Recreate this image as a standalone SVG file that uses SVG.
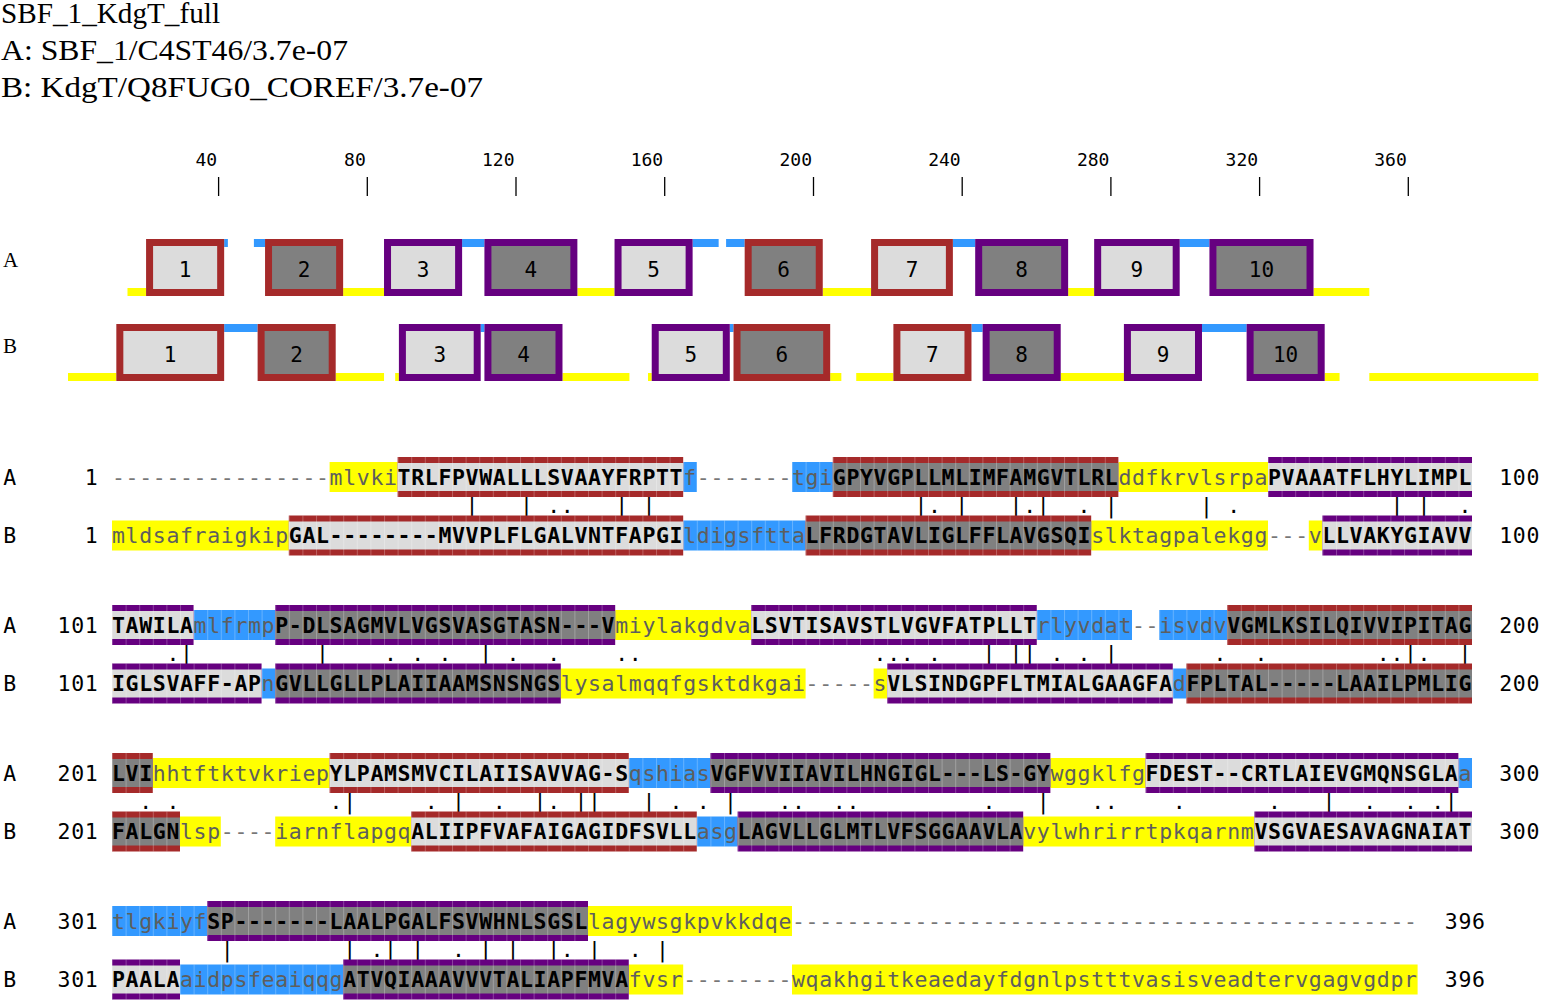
<svg xmlns="http://www.w3.org/2000/svg" width="1542" height="1003" viewBox="0 0 1542 1003">
<style>
.seq{font-family:"DejaVu Sans Mono",monospace;font-size:21.5px;letter-spacing:0.656px}
.up{font-weight:bold;fill:#000}
.lo{fill:#5e5e5e}
.gp{fill:#777}
.lb{fill:#000}
.mt{font-family:"DejaVu Sans Mono",monospace;font-size:21.5px;fill:#000}
.y{fill:#ffff00}
.b{fill:#3399ff}
.br{fill:#a52a2a}
.pu{fill:#660080}
.lt{fill:#dcdcdc}
.dk{fill:#808080}
.grid{fill:url(#cells)}
.bx{stroke-width:7}
.sbr{stroke:#a52a2a}
.spu{stroke:#660080}
.title{font-family:"Liberation Serif",serif;font-size:30px;fill:#000}
.ruler{font-family:"DejaVu Sans Mono",monospace;font-size:18px;text-anchor:end;fill:#000}
.tick{stroke:#000;stroke-width:1.3}
.bn{font-family:"DejaVu Sans Mono",monospace;font-size:21px;text-anchor:middle;fill:#000}
.tl{font-family:"Liberation Serif",serif;font-size:21px;fill:#000}
</style>
<defs>
<pattern id="cells" patternUnits="userSpaceOnUse" x="112" y="0" width="13.6" height="40">
<rect x="0" y="0" width="1" height="40" fill="#fff" fill-opacity="0.25"/>
</pattern>
</defs>
<rect width="1542" height="1003" fill="#fff"/>

<g id="title">
<text class="title" x="1" y="23" textLength="219" lengthAdjust="spacingAndGlyphs">SBF_1_KdgT_full</text>
<text class="title" x="1" y="60" textLength="347" lengthAdjust="spacingAndGlyphs">A: SBF_1/C4ST46/3.7e-07</text>
<text class="title" x="1" y="97" textLength="482" lengthAdjust="spacingAndGlyphs">B: KdgT/Q8FUG0_COREF/3.7e-07</text>
</g>

<g id="ruler">
<text class="ruler" x="217.1" y="166">40</text>
<text class="ruler" x="365.8" y="166">80</text>
<text class="ruler" x="514.5" y="166">120</text>
<text class="ruler" x="663.2" y="166">160</text>
<text class="ruler" x="812" y="166">200</text>
<text class="ruler" x="960.7" y="166">240</text>
<text class="ruler" x="1109.4" y="166">280</text>
<text class="ruler" x="1258.1" y="166">320</text>
<text class="ruler" x="1406.8" y="166">360</text>
<line class="tick" x1="218.6" y1="177" x2="218.6" y2="196"/>
<line class="tick" x1="367.3" y1="177" x2="367.3" y2="196"/>
<line class="tick" x1="516" y1="177" x2="516" y2="196"/>
<line class="tick" x1="664.7" y1="177" x2="664.7" y2="196"/>
<line class="tick" x1="813.5" y1="177" x2="813.5" y2="196"/>
<line class="tick" x1="962.2" y1="177" x2="962.2" y2="196"/>
<line class="tick" x1="1110.9" y1="177" x2="1110.9" y2="196"/>
<line class="tick" x1="1259.6" y1="177" x2="1259.6" y2="196"/>
<line class="tick" x1="1408.3" y1="177" x2="1408.3" y2="196"/>
</g>

<g id="topology-labels">
<text class="tl" x="3" y="267">A</text>
<text class="tl" x="3" y="352.5">B</text>
</g>

<g id="connectors">
<g id="loops-A">
<rect class="y" x="127.49" y="288" width="18.59" height="8"/>
<rect class="y" x="343.13" y="288" width="40.9" height="8"/>
<rect class="y" x="577.37" y="288" width="37.18" height="8"/>
<rect class="y" x="822.75" y="288" width="48.34" height="8"/>
<rect class="y" x="1068.14" y="288" width="26.03" height="8"/>
<rect class="y" x="1313.53" y="288" width="55.77" height="8"/>
<rect class="b" x="224.16" y="239" width="3.71" height="8"/>
<rect class="b" x="253.9" y="239" width="11.15" height="8"/>
<rect class="b" x="462.11" y="239" width="22.31" height="8"/>
<rect class="b" x="692.62" y="239" width="26.03" height="8"/>
<rect class="b" x="726.09" y="239" width="18.59" height="8"/>
<rect class="b" x="952.88" y="239" width="22.31" height="8"/>
<rect class="b" x="1179.68" y="239" width="29.75" height="8"/>
</g>
<g id="loops-B">
<rect class="y" x="68" y="373" width="48.33" height="8"/>
<rect class="y" x="335.7" y="373" width="48.33" height="8"/>
<rect class="y" x="395.18" y="373" width="3.72" height="8"/>
<rect class="y" x="562.49" y="373" width="66.93" height="8"/>
<rect class="y" x="648.01" y="373" width="3.72" height="8"/>
<rect class="y" x="830.19" y="373" width="11.15" height="8"/>
<rect class="y" x="856.22" y="373" width="37.18" height="8"/>
<rect class="y" x="1060.71" y="373" width="63.2" height="8"/>
<rect class="y" x="1324.68" y="373" width="14.88" height="8"/>
<rect class="y" x="1369.3" y="373" width="169" height="8"/>
<rect class="b" x="224.16" y="324" width="33.46" height="8"/>
<rect class="b" x="480.7" y="324" width="3.72" height="8"/>
<rect class="b" x="729.8" y="324" width="3.72" height="8"/>
<rect class="b" x="971.47" y="324" width="11.16" height="8"/>
<rect class="b" x="1201.99" y="324" width="44.62" height="8"/>
</g>
</g>

<g id="topology-A">
<g id="A-tm1"><rect class="lt bx sbr" x="149.58" y="242.5" width="71.08" height="50"/><text class="bn" x="185.1" y="277">1</text></g>
<g id="A-tm2"><rect class="dk bx sbr" x="268.55" y="242.5" width="71.08" height="50"/><text class="bn" x="304.1" y="277">2</text></g>
<g id="A-tm3"><rect class="lt bx spu" x="387.53" y="242.5" width="71.08" height="50"/><text class="bn" x="423.1" y="277">3</text></g>
<g id="A-tm4"><rect class="dk bx spu" x="487.92" y="242.5" width="85.95" height="50"/><text class="bn" x="530.9" y="277">4</text></g>
<g id="A-tm5"><rect class="lt bx spu" x="618.05" y="242.5" width="71.07" height="50"/><text class="bn" x="653.6" y="277">5</text></g>
<g id="A-tm6"><rect class="dk bx sbr" x="748.18" y="242.5" width="71.07" height="50"/><text class="bn" x="783.7" y="277">6</text></g>
<g id="A-tm7"><rect class="lt bx sbr" x="874.59" y="242.5" width="74.79" height="50"/><text class="bn" x="912" y="277">7</text></g>
<g id="A-tm8"><rect class="dk bx spu" x="978.69" y="242.5" width="85.95" height="50"/><text class="bn" x="1021.7" y="277">8</text></g>
<g id="A-tm9"><rect class="lt bx spu" x="1097.67" y="242.5" width="78.51" height="50"/><text class="bn" x="1136.9" y="277">9</text></g>
<g id="A-tm10"><rect class="dk bx spu" x="1212.93" y="242.5" width="97.1" height="50"/><text class="bn" x="1261.5" y="277">10</text></g>
</g>

<g id="topology-B">
<g id="B-tm1"><rect class="lt bx sbr" x="119.83" y="327.5" width="100.83" height="50"/><text class="bn" x="170.2" y="362">1</text></g>
<g id="B-tm2"><rect class="dk bx sbr" x="261.12" y="327.5" width="71.08" height="50"/><text class="bn" x="296.7" y="362">2</text></g>
<g id="B-tm3"><rect class="lt bx spu" x="402.4" y="327.5" width="74.8" height="50"/><text class="bn" x="439.8" y="362">3</text></g>
<g id="B-tm4"><rect class="dk bx spu" x="487.92" y="327.5" width="71.07" height="50"/><text class="bn" x="523.5" y="362">4</text></g>
<g id="B-tm5"><rect class="lt bx spu" x="655.23" y="327.5" width="71.07" height="50"/><text class="bn" x="690.8" y="362">5</text></g>
<g id="B-tm6"><rect class="dk bx sbr" x="737.02" y="327.5" width="89.67" height="50"/><text class="bn" x="781.9" y="362">6</text></g>
<g id="B-tm7"><rect class="lt bx sbr" x="896.9" y="327.5" width="71.07" height="50"/><text class="bn" x="932.4" y="362">7</text></g>
<g id="B-tm8"><rect class="dk bx spu" x="986.13" y="327.5" width="71.08" height="50"/><text class="bn" x="1021.7" y="362">8</text></g>
<g id="B-tm9"><rect class="lt bx spu" x="1127.41" y="327.5" width="71.08" height="50"/><text class="bn" x="1163" y="362">9</text></g>
<g id="B-tm10"><rect class="dk bx spu" x="1250.11" y="327.5" width="71.07" height="50"/><text class="bn" x="1285.6" y="362">10</text></g>
</g>

<!-- Block 1 -->
<g id="block1">
<g id="block1-A">
<rect class="y" x="329.6" y="462" width="68" height="30"/>
<rect class="b" x="683.2" y="462" width="13.6" height="30"/><rect class="grid" x="683.2" y="462" width="13.6" height="30"/>
<rect class="b" x="792" y="462" width="40.8" height="30"/><rect class="grid" x="792" y="462" width="40.8" height="30"/>
<rect class="y" x="1118.4" y="462" width="149.6" height="30"/>
<rect class="br" x="397.6" y="457" width="285.6" height="40"/><rect class="lt" x="397.6" y="463" width="285.6" height="28"/><rect class="grid" x="397.6" y="457" width="285.6" height="40"/>
<rect class="br" x="832.8" y="457" width="285.6" height="40"/><rect class="dk" x="832.8" y="463" width="285.6" height="28"/><rect class="grid" x="832.8" y="457" width="285.6" height="40"/>
<rect class="pu" x="1268" y="457" width="204" height="40"/><rect class="lt" x="1268" y="463" width="204" height="28"/><rect class="grid" x="1268" y="457" width="204" height="40"/>
<g class="seq">
<text class="lb" x="3.2" y="484.5">A</text><text class="lb" x="84.8" y="484.5">1</text>
<text class="gp" x="112" y="484.5">----------------</text>
<text class="lo" x="329.6" y="484.5">mlvki</text>
<text class="up" x="397.6" y="484.5">TRLFPVWALLLSVAAYFRPTT</text>
<text class="lo" x="683.2" y="484.5">f</text>
<text class="gp" x="696.8" y="484.5">-------</text>
<text class="lo" x="792" y="484.5">tgi</text>
<text class="up" x="832.8" y="484.5">GPYVGPLLMLIMFAMGVTLRL</text>
<text class="lo" x="1118.4" y="484.5">ddfkrvlsrpa</text>
<text class="up" x="1268" y="484.5">PVAAATFLHYLIMPL</text>
<text class="lb" x="1499.2" y="484.5">100</text>
</g>
</g>
<text class="mt" y="513" x="465.6 520 547.2 560.8 615.2 642.4 914.4 928 955.2 1009.6 1023.2 1036.8 1077.6 1104.8 1200 1227.2 1390.4 1417.6 1458.4">||..|||.||.|.||.||.</text>
<g id="block1-B" transform="translate(0,58.5)">
<rect class="y" x="112" y="462" width="176.8" height="30"/>
<rect class="b" x="683.2" y="462" width="122.4" height="30"/><rect class="grid" x="683.2" y="462" width="122.4" height="30"/>
<rect class="y" x="1091.2" y="462" width="176.8" height="30"/>
<rect class="y" x="1308.8" y="462" width="13.6" height="30"/>
<rect class="br" x="288.8" y="457" width="394.4" height="40"/><rect class="lt" x="288.8" y="463" width="394.4" height="28"/><rect class="grid" x="288.8" y="457" width="394.4" height="40"/>
<rect class="br" x="805.6" y="457" width="285.6" height="40"/><rect class="dk" x="805.6" y="463" width="285.6" height="28"/><rect class="grid" x="805.6" y="457" width="285.6" height="40"/>
<rect class="pu" x="1322.4" y="457" width="149.6" height="40"/><rect class="lt" x="1322.4" y="463" width="149.6" height="28"/><rect class="grid" x="1322.4" y="457" width="149.6" height="40"/>
<g class="seq">
<text class="lb" x="3.2" y="484.5">B</text><text class="lb" x="84.8" y="484.5">1</text>
<text class="lo" x="112" y="484.5">mldsafraigkip</text>
<text class="up" x="288.8" y="484.5">GAL--------MVVPLFLGALVNTFAPGI</text>
<text class="lo" x="683.2" y="484.5">ldigsftta</text>
<text class="up" x="805.6" y="484.5">LFRDGTAVLIGLFFLAVGSQI</text>
<text class="lo" x="1091.2" y="484.5">slktagpalekgg</text>
<text class="gp" x="1268" y="484.5">---</text>
<text class="lo" x="1308.8" y="484.5">v</text>
<text class="up" x="1322.4" y="484.5">LLVAKYGIAVV</text>
<text class="lb" x="1499.2" y="484.5">100</text>
</g>
</g>
</g>

<!-- Block 2 -->
<g id="block2" transform="translate(0,148)">
<g id="block2-A">
<rect class="b" x="193.6" y="462" width="81.6" height="30"/><rect class="grid" x="193.6" y="462" width="81.6" height="30"/>
<rect class="y" x="615.2" y="462" width="136" height="30"/>
<rect class="b" x="1036.8" y="462" width="95.2" height="30"/><rect class="grid" x="1036.8" y="462" width="95.2" height="30"/>
<rect class="b" x="1159.2" y="462" width="68" height="30"/><rect class="grid" x="1159.2" y="462" width="68" height="30"/>
<rect class="pu" x="112" y="457" width="81.6" height="40"/><rect class="lt" x="112" y="463" width="81.6" height="28"/><rect class="grid" x="112" y="457" width="81.6" height="40"/>
<rect class="pu" x="275.2" y="457" width="340" height="40"/><rect class="dk" x="275.2" y="463" width="340" height="28"/><rect class="grid" x="275.2" y="457" width="340" height="40"/>
<rect class="pu" x="751.2" y="457" width="285.6" height="40"/><rect class="lt" x="751.2" y="463" width="285.6" height="28"/><rect class="grid" x="751.2" y="457" width="285.6" height="40"/>
<rect class="br" x="1227.2" y="457" width="244.8" height="40"/><rect class="dk" x="1227.2" y="463" width="244.8" height="28"/><rect class="grid" x="1227.2" y="457" width="244.8" height="40"/>
<g class="seq">
<text class="lb" x="3.2" y="484.5">A</text><text class="lb" x="57.6" y="484.5">101</text>
<text class="up" x="112" y="484.5">TAWILA</text>
<text class="lo" x="193.6" y="484.5">mlfrmp</text>
<text class="up" x="275.2" y="484.5">P-DLSAGMVLVGSVASGTASN---V</text>
<text class="lo" x="615.2" y="484.5">miylakgdva</text>
<text class="up" x="751.2" y="484.5">LSVTISAVSTLVGVFATPLLT</text>
<text class="lo" x="1036.8" y="484.5">rlyvdat</text>
<text class="gp" x="1132" y="484.5">--</text>
<text class="lo" x="1159.2" y="484.5">isvdv</text>
<text class="up" x="1227.2" y="484.5">VGMLKSILQIVVIPITAG</text>
<text class="lb" x="1499.2" y="484.5">200</text>
</g>
</g>
<text class="mt" y="513" x="166.4 180 316 384 411.2 438.4 479.2 506.4 547.2 615.2 628.8 873.6 887.2 900.8 928 982.4 1009.6 1023.2 1050.4 1077.6 1104.8 1213.6 1254.4 1376.8 1390.4 1404 1417.6 1458.4">.||...|........|||..|....|.|</text>
<g id="block2-B" transform="translate(0,58.5)">
<rect class="b" x="261.6" y="462" width="13.6" height="30"/><rect class="grid" x="261.6" y="462" width="13.6" height="30"/>
<rect class="y" x="560.8" y="462" width="244.8" height="30"/>
<rect class="y" x="873.6" y="462" width="13.6" height="30"/>
<rect class="b" x="1172.8" y="462" width="13.6" height="30"/><rect class="grid" x="1172.8" y="462" width="13.6" height="30"/>
<rect class="pu" x="112" y="457" width="149.6" height="40"/><rect class="lt" x="112" y="463" width="149.6" height="28"/><rect class="grid" x="112" y="457" width="149.6" height="40"/>
<rect class="pu" x="275.2" y="457" width="285.6" height="40"/><rect class="dk" x="275.2" y="463" width="285.6" height="28"/><rect class="grid" x="275.2" y="457" width="285.6" height="40"/>
<rect class="pu" x="887.2" y="457" width="285.6" height="40"/><rect class="lt" x="887.2" y="463" width="285.6" height="28"/><rect class="grid" x="887.2" y="457" width="285.6" height="40"/>
<rect class="br" x="1186.4" y="457" width="285.6" height="40"/><rect class="dk" x="1186.4" y="463" width="285.6" height="28"/><rect class="grid" x="1186.4" y="457" width="285.6" height="40"/>
<g class="seq">
<text class="lb" x="3.2" y="484.5">B</text><text class="lb" x="57.6" y="484.5">101</text>
<text class="up" x="112" y="484.5">IGLSVAFF-AP</text>
<text class="lo" x="261.6" y="484.5">n</text>
<text class="up" x="275.2" y="484.5">GVLLGLLPLAIIAAMSNSNGS</text>
<text class="lo" x="560.8" y="484.5">lysalmqqfgsktdkgai</text>
<text class="gp" x="805.6" y="484.5">-----</text>
<text class="lo" x="873.6" y="484.5">s</text>
<text class="up" x="887.2" y="484.5">VLSINDGPFLTMIALGAAGFA</text>
<text class="lo" x="1172.8" y="484.5">d</text>
<text class="up" x="1186.4" y="484.5">FPLTAL-----LAAILPMLIG</text>
<text class="lb" x="1499.2" y="484.5">200</text>
</g>
</g>
</g>

<!-- Block 3 -->
<g id="block3" transform="translate(0,296)">
<g id="block3-A">
<rect class="y" x="152.8" y="462" width="176.8" height="30"/>
<rect class="b" x="628.8" y="462" width="81.6" height="30"/><rect class="grid" x="628.8" y="462" width="81.6" height="30"/>
<rect class="y" x="1050.4" y="462" width="95.2" height="30"/>
<rect class="b" x="1458.4" y="462" width="13.6" height="30"/><rect class="grid" x="1458.4" y="462" width="13.6" height="30"/>
<rect class="br" x="112" y="457" width="40.8" height="40"/><rect class="dk" x="112" y="463" width="40.8" height="28"/><rect class="grid" x="112" y="457" width="40.8" height="40"/>
<rect class="br" x="329.6" y="457" width="299.2" height="40"/><rect class="lt" x="329.6" y="463" width="299.2" height="28"/><rect class="grid" x="329.6" y="457" width="299.2" height="40"/>
<rect class="pu" x="710.4" y="457" width="340" height="40"/><rect class="dk" x="710.4" y="463" width="340" height="28"/><rect class="grid" x="710.4" y="457" width="340" height="40"/>
<rect class="pu" x="1145.6" y="457" width="312.8" height="40"/><rect class="lt" x="1145.6" y="463" width="312.8" height="28"/><rect class="grid" x="1145.6" y="457" width="312.8" height="40"/>
<g class="seq">
<text class="lb" x="3.2" y="484.5">A</text><text class="lb" x="57.6" y="484.5">201</text>
<text class="up" x="112" y="484.5">LVI</text>
<text class="lo" x="152.8" y="484.5">hhtftktvkriep</text>
<text class="up" x="329.6" y="484.5">YLPAMSMVCILAIISAVVAG-S</text>
<text class="lo" x="628.8" y="484.5">qshias</text>
<text class="up" x="710.4" y="484.5">VGFVVIIAVILHNGIGL---LS-GY</text>
<text class="lo" x="1050.4" y="484.5">wggklfg</text>
<text class="up" x="1145.6" y="484.5">FDEST--CRTLAIEVGMQNSGLA</text>
<text class="lo" x="1458.4" y="484.5">a</text>
<text class="lb" x="1499.2" y="484.5">300</text>
</g>
</g>
<text class="mt" y="513" x="139.2 166.4 329.6 343.2 424.8 452 492.8 533.6 547.2 574.4 588 642.4 669.6 696.8 724 778.4 792 832.8 846.4 982.4 1036.8 1091.2 1104.8 1172.8 1268 1322.4 1363.2 1404 1431.2 1444.8">...|.|.|.|||..|.....|....|...|</text>
<g id="block3-B" transform="translate(0,58.5)">
<rect class="y" x="180" y="462" width="40.8" height="30"/>
<rect class="y" x="275.2" y="462" width="136" height="30"/>
<rect class="b" x="696.8" y="462" width="40.8" height="30"/><rect class="grid" x="696.8" y="462" width="40.8" height="30"/>
<rect class="y" x="1023.2" y="462" width="231.2" height="30"/>
<rect class="br" x="112" y="457" width="68" height="40"/><rect class="dk" x="112" y="463" width="68" height="28"/><rect class="grid" x="112" y="457" width="68" height="40"/>
<rect class="br" x="411.2" y="457" width="285.6" height="40"/><rect class="lt" x="411.2" y="463" width="285.6" height="28"/><rect class="grid" x="411.2" y="457" width="285.6" height="40"/>
<rect class="pu" x="737.6" y="457" width="285.6" height="40"/><rect class="dk" x="737.6" y="463" width="285.6" height="28"/><rect class="grid" x="737.6" y="457" width="285.6" height="40"/>
<rect class="pu" x="1254.4" y="457" width="217.6" height="40"/><rect class="lt" x="1254.4" y="463" width="217.6" height="28"/><rect class="grid" x="1254.4" y="457" width="217.6" height="40"/>
<g class="seq">
<text class="lb" x="3.2" y="484.5">B</text><text class="lb" x="57.6" y="484.5">201</text>
<text class="up" x="112" y="484.5">FALGN</text>
<text class="lo" x="180" y="484.5">lsp</text>
<text class="gp" x="220.8" y="484.5">----</text>
<text class="lo" x="275.2" y="484.5">iarnflapgq</text>
<text class="up" x="411.2" y="484.5">ALIIPFVAFAIGAGIDFSVLL</text>
<text class="lo" x="696.8" y="484.5">asg</text>
<text class="up" x="737.6" y="484.5">LAGVLLGLMTLVFSGGAAVLA</text>
<text class="lo" x="1023.2" y="484.5">vylwhrirrtpkqarnm</text>
<text class="up" x="1254.4" y="484.5">VSGVAESAVAGNAIAT</text>
<text class="lb" x="1499.2" y="484.5">300</text>
</g>
</g>
</g>

<!-- Block 4 -->
<g id="block4" transform="translate(0,444)">
<g id="block4-A">
<rect class="b" x="112" y="462" width="95.2" height="30"/><rect class="grid" x="112" y="462" width="95.2" height="30"/>
<rect class="y" x="588" y="462" width="204" height="30"/>
<rect class="pu" x="207.2" y="457" width="380.8" height="40"/><rect class="dk" x="207.2" y="463" width="380.8" height="28"/><rect class="grid" x="207.2" y="457" width="380.8" height="40"/>
<g class="seq">
<text class="lb" x="3.2" y="484.5">A</text><text class="lb" x="57.6" y="484.5">301</text>
<text class="lo" x="112" y="484.5">tlgkiyf</text>
<text class="up" x="207.2" y="484.5">SP-------LAALPGALFSVWHNLSGSL</text>
<text class="lo" x="588" y="484.5">lagywsgkpvkkdqe</text>
<text class="gp" x="792" y="484.5">----------------------------------------------</text>
<text class="lb" x="1444.8" y="484.5">396</text>
</g>
</g>
<text class="mt" y="513" x="220.8 343.2 370.4 384 411.2 452 479.2 506.4 547.2 560.8 588 628.8 656">||.||.|||.|.|</text>
<g id="block4-B" transform="translate(0,58.5)">
<rect class="b" x="180" y="462" width="163.2" height="30"/><rect class="grid" x="180" y="462" width="163.2" height="30"/>
<rect class="y" x="628.8" y="462" width="54.4" height="30"/>
<rect class="y" x="792" y="462" width="625.6" height="30"/>
<rect class="pu" x="112" y="457" width="68" height="40"/><rect class="lt" x="112" y="463" width="68" height="28"/><rect class="grid" x="112" y="457" width="68" height="40"/>
<rect class="pu" x="343.2" y="457" width="285.6" height="40"/><rect class="dk" x="343.2" y="463" width="285.6" height="28"/><rect class="grid" x="343.2" y="457" width="285.6" height="40"/>
<g class="seq">
<text class="lb" x="3.2" y="484.5">B</text><text class="lb" x="57.6" y="484.5">301</text>
<text class="up" x="112" y="484.5">PAALA</text>
<text class="lo" x="180" y="484.5">aidpsfeaiqqg</text>
<text class="up" x="343.2" y="484.5">ATVQIAAAVVVTALIAPFMVA</text>
<text class="lo" x="628.8" y="484.5">fvsr</text>
<text class="gp" x="683.2" y="484.5">--------</text>
<text class="lo" x="792" y="484.5">wqakhgitkeaedayfdgnlpstttvasisveadtervgagvgdpr</text>
<text class="lb" x="1444.8" y="484.5">396</text>
</g>
</g>
</g>
</svg>
